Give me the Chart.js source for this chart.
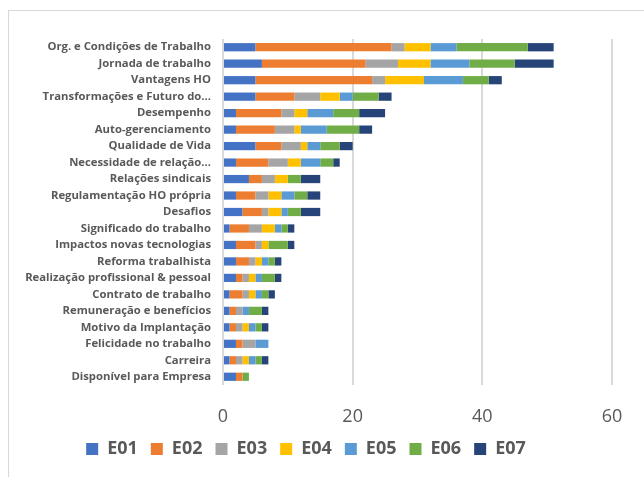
<!DOCTYPE html>
<html>
<head>
<meta charset="utf-8">
<script src="https://cdn.jsdelivr.net/npm/chart.js@4/dist/chart.umd.min.js"></script>
<style>
  html, body { margin: 0; padding: 0; background: #fff; }
  #wrap { position: relative; width: 644px; height: 477px; overflow: hidden; }
  #frame { position: absolute; left: 8px; top: 10px; width: 700px; height: 600px;
           border: 1px solid #d9d9d9; box-sizing: border-box; }
  #chart { position: absolute; left: 0; top: 0; }
</style>
</head>
<body>
<div id="wrap">
  <div id="frame"></div>
  <canvas id="chart" width="644" height="477"></canvas>
</div>
<script>
const categories = [
  "Org. e Condições de Trabalho",
  "Jornada de trabalho",
  "Vantagens HO",
  "Transformações e Futuro do...",
  "Desempenho",
  "Auto-gerenciamento",
  "Qualidade de Vida",
  "Necessidade de relação...",
  "Relações sindicais",
  "Regulamentação HO própria",
  "Desafios",
  "Significado do trabalho",
  "Impactos novas tecnologias",
  "Reforma trabalhista",
  "Realização profissional & pessoal",
  "Contrato de trabalho",
  "Remuneração e benefícios",
  "Motivo da Implantação",
  "Felicidade no trabalho",
  "Carreira",
  "Disponível para Empresa"
];

const e01 = [5, 6, 5, 5, 2, 2, 5, 2, 4, 2, 3, 1, 2, 2, 2, 1, 1, 1, 2, 1, 2];
const e02 = [21, 16, 18, 6, 7, 6, 4, 5, 2, 3, 3, 3, 3, 2, 1, 2, 1, 1, 1, 1, 1];
const e03 = [2, 5, 2, 4, 2, 3, 3, 3, 2, 2, 1, 2, 1, 1, 1, 1, 1, 1, 2, 1, 0];
const e04 = [4, 5, 6, 3, 2, 1, 1, 2, 2, 2, 2, 2, 1, 1, 1, 1, 0, 1, 0, 1, 0];
const e05 = [4, 6, 6, 2, 4, 4, 2, 3, 0, 2, 1, 1, 0, 1, 1, 1, 1, 1, 2, 1, 0];
const e06 = [11, 7, 4, 4, 4, 5, 3, 2, 2, 2, 2, 1, 3, 1, 2, 1, 2, 1, 0, 1, 1];
const e07 = [4, 6, 2, 2, 4, 2, 2, 1, 3, 2, 3, 1, 1, 1, 1, 1, 1, 1, 0, 1, 0];

const xTicks = [0, 20, 40, 60];

const seriesNames = ["E01", "E02", "E03", "E04", "E05", "E06", "E07"];
const seriesData = [e01, e02, e03, e04, e05, e06, e07];
const seriesColors = ["#4472C4", "#ED7D31", "#A5A5A5", "#FFC000", "#5B9BD5", "#70AD47", "#264478"];

const datasets = seriesNames.map((name, i) => ({
  label: name,
  data: seriesData[i],
  backgroundColor: seriesColors[i],
  borderWidth: 0,
  barPercentage: 0.5,
  categoryPercentage: 1.0
}));

new Chart(document.getElementById("chart"), {
  type: "bar",
  data: { labels: categories, datasets },
  options: {
    responsive: false,
    animation: false,
    indexAxis: "y",
    layout: { padding: { top: 39, right: 32, left: 0, bottom: 9 } },
    plugins: {
      tooltip: { enabled: false },
      legend: {
        position: "bottom",
        labels: {
          boxWidth: 12,
          boxHeight: 12,
          padding: 13,
          color: "#595959",
          font: { family: "Open Sans", size: 18, weight: "bold" }
        }
      }
    },
    scales: {
      x: {
        stacked: true,
        min: 0,
        max: 60,
        afterBuildTicks: (axis) => { axis.ticks = xTicks.map((v) => ({ value: v })); },
        afterFit: (axis) => { axis.height = 42; },
        border: { display: false },
        grid: { color: "#d9d9d9", lineWidth: 2, drawTicks: false },
        ticks: {
          padding: 21,
          maxRotation: 0,
          color: "#595959",
          font: { family: "Open Sans", size: 18 }
        }
      },
      y: {
        stacked: true,
        afterFit: (axis) => { axis.width = 223; },
        border: { display: false },
        grid: { display: false, drawTicks: false },
        ticks: {
          autoSkip: false,
          padding: 12,
          color: "#595959",
          font: { family: "Open Sans", size: 11.3, weight: "bold" }
        }
      }
    }
  }
});
</script>
</body>
</html>
